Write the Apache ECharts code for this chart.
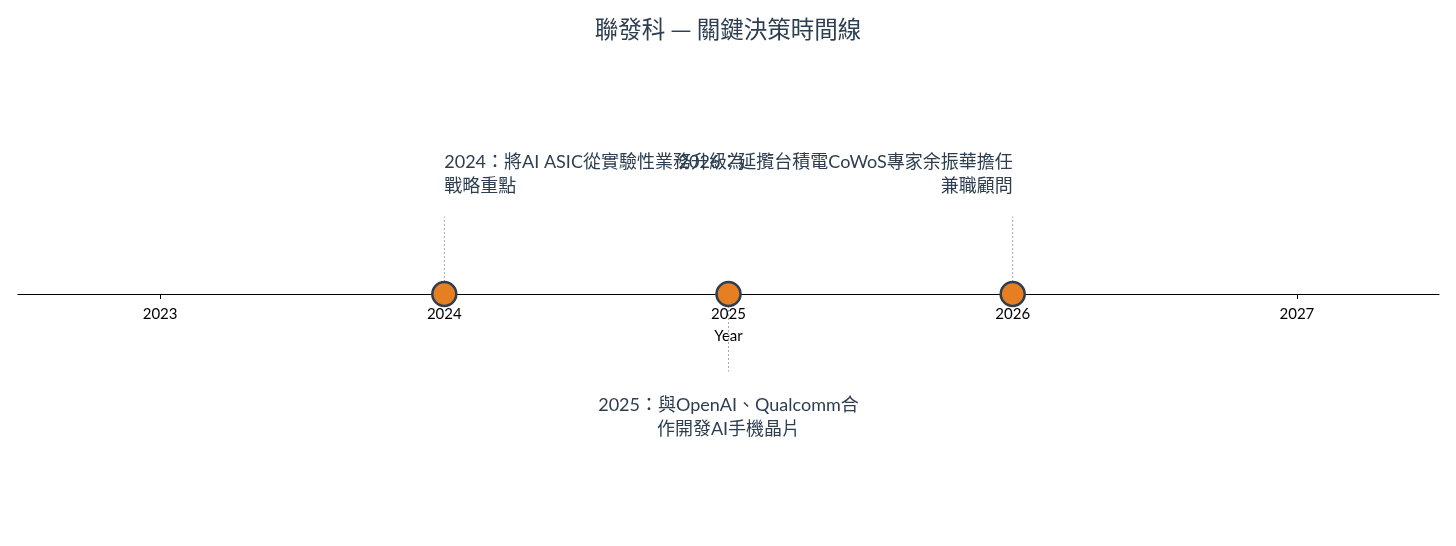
<!DOCTYPE html>
<html>
<head>
<meta charset="utf-8">
<script src="https://cdn.jsdelivr.net/npm/echarts@6/dist/echarts.min.js"></script>
<style>html,body{margin:0;padding:0;background:#fff}#c{width:1456px;height:546px}</style>
</head>
<body>
<div id="c"></div>
<script>
const titleText = '聯發科 — 關鍵決策時間線';
const tickYears = [2023, 2024, 2025, 2026, 2027];
const years = [2024, 2025, 2026];
const events = [
  '2024：將AI ASIC從實驗性業務升級為\n戰略重點',
  '2025：與OpenAI、Qualcomm合\n作開發AI手機晶片',
  '2026：延攬台積電CoWoS專家余振華擔任\n兼職顧問'
];
const sides = [1, -1, 1];
const aligns = ['left', 'center', 'right'];

const FONT = "Lato, 'Noto Sans CJK TC', sans-serif";
const chart = echarts.init(document.getElementById('c'));

const stemLen = 0.31;
const textOffUp = 0.384;
const textOffDown = 0.396;

chart.setOption({
  animation: false,
  title: {
    text: titleText, left: 'center', top: 12,
    textStyle: { fontSize: 23.5, fontWeight: 'normal', color: '#2C3E50', fontFamily: "'Noto Sans CJK TC', sans-serif" }
  },
  grid: { left: 18, right: 17, top: 44, bottom: 252, outerBoundsMode: 'none', containLabel: false },
  xAxis: {
    type: 'value', min: 2022.5, max: 2027.5,
    name: 'Year', nameLocation: 'middle', nameGap: 35,
    nameTextStyle: { fontSize: 15, color: '#000', fontFamily: FONT },
    axisLine: { onZero: false, lineStyle: { color: '#000', width: 1.2 } },
    axisTick: { show: true, customValues: tickYears, length: 5, lineStyle: { color: '#000' } },
    axisLabel: { customValues: tickYears, fontSize: 15, color: '#000', fontFamily: FONT, margin: 13,
                 formatter: v => String(v) },
    splitLine: { show: false }
  },
  yAxis: { type: 'value', min: 0, max: 1, show: false },
  series: [
    {
      type: 'custom',
      data: years.map((y, i) => [y, sides[i], i]),
      z: 1,
      clip: false,
      renderItem: function (params, api) {
        const x = api.value(0), s = api.value(1), i = api.value(2);
        const p0 = api.coord([x, 0]);
        const p1 = api.coord([x, s * stemLen]);
        const pt = api.coord([x, s > 0 ? textOffUp : -textOffDown]);
        return {
          type: 'group',
          children: [
            { type: 'line', shape: { x1: p0[0], y1: p0[1], x2: p1[0], y2: p1[1] },
              style: { stroke: '#aaaaaa', lineWidth: 1, lineDash: [2, 2] } },
            { type: 'text', x: pt[0], y: pt[1],
              style: { text: events[i], fill: '#2C3E50', fontSize: 18, fontFamily: FONT,
                       lineHeight: 24, align: aligns[i], verticalAlign: s > 0 ? 'bottom' : 'top' } }
          ]
        };
      }
    },
    {
      type: 'scatter',
      data: years.map(y => [y, 0]),
      symbolSize: 24,
      z: 5,
      clip: false,
      itemStyle: { color: '#E67E22', borderColor: '#2C3E50', borderWidth: 2.5, opacity: 1 }
    }
  ]
});
</script>
</body>
</html>
